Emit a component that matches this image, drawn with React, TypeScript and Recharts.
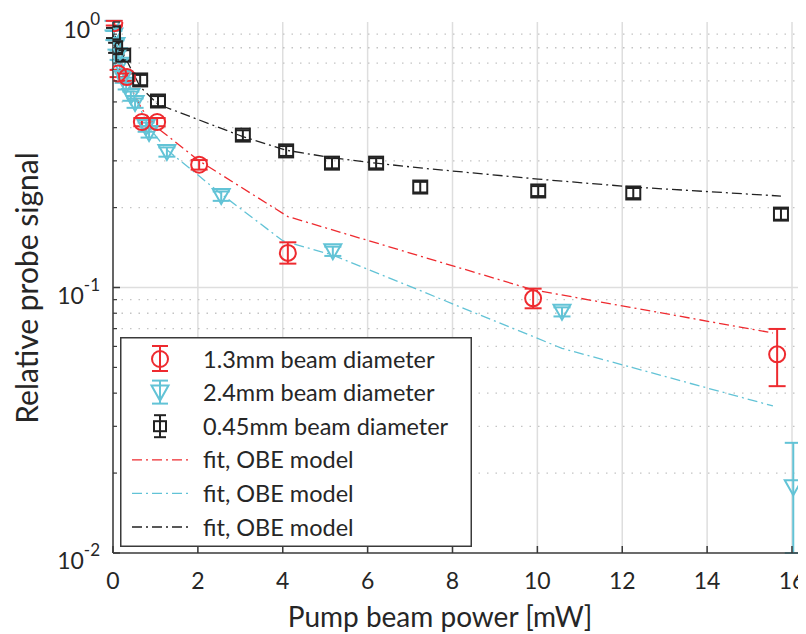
import React from 'react';
import {
  ComposedChart,
  Scatter,
  Line,
  XAxis,
  YAxis,
  CartesianGrid,
  ReferenceLine,
  ErrorBar,
  Legend,
  Label,
} from 'recharts';

// ---------- data ----------
const xTicks = [0, 2, 4, 6, 8, 10, 12, 14, 16];
const decadeTicks = [0.01, 0.1, 1];
const minorTicks = [0.02, 0.03, 0.04, 0.05, 0.06, 0.07, 0.08, 0.09, 0.2, 0.3, 0.4, 0.5, 0.6, 0.7, 0.8, 0.9];
const decadeLabels = ['-2', '-1', '0'];

// 1.3 mm beam diameter (red circles)
const redX = [0.03, 0.12, 0.33, 0.68, 1.04, 2.03, 4.12, 9.9, 15.65];
const redY = [0.99, 0.64, 0.62, 0.42, 0.42, 0.29, 0.135, 0.091, 0.056];
const redErr = [
  [0.02, 0.02], [0.02, 0.02], [0.02, 0.02], [0.015, 0.015], [0.015, 0.015],
  [0.012, 0.012], [0.012, 0.013], [0.0075, 0.008], [0.0135, 0.0138],
];
const redFitX = [0, 0.12, 0.33, 0.68, 1.04, 2.03, 4.12, 9.9, 15.55];
const redFitY = [1.0, 0.74, 0.6, 0.47, 0.4, 0.3, 0.185, 0.098, 0.0674];

// 2.4 mm beam diameter (cyan triangles)
const cyanX = [0.0, 0.02, 0.07, 0.12, 0.16, 0.24, 0.31, 0.42, 0.52, 0.78, 0.85, 1.27, 2.55, 5.18, 10.58, 16.03];
const cyanY = [0.97, 0.89, 0.82, 0.75, 0.69, 0.615, 0.58, 0.526, 0.495, 0.402, 0.382, 0.324, 0.221, 0.137, 0.081, 0.0177];
const cyanErr = [
  [0.04, 0.04], [0.035, 0.035], [0.033, 0.033], [0.03, 0.03], [0.028, 0.028], [0.025, 0.025],
  [0.023, 0.023], [0.021, 0.021], [0.02, 0.02], [0.016, 0.016], [0.015, 0.015], [0.013, 0.013],
  [0.009, 0.009], [0.0055, 0.0055], [0.0032, 0.0032], [0.0077, 0.0083],
];
const cyanFitX = [0, 0.12, 0.31, 0.52, 0.85, 1.27, 2.55, 4.0, 5.18, 10.58, 15.55];
const cyanFitY = [1.0, 0.78, 0.62, 0.52, 0.4, 0.33, 0.225, 0.15, 0.1325, 0.059, 0.0358];

// 0.45 mm beam diameter (black squares)
const blackX = [0.0, 0.05, 0.24, 0.64, 1.06, 3.06, 4.08, 5.16, 6.2, 7.24, 10.02, 12.26, 15.74];
const blackY = [0.91, 0.8, 0.75, 0.605, 0.504, 0.375, 0.327, 0.294, 0.294, 0.239, 0.231, 0.227, 0.189];
const blackErr = [
  [0.04, 0.04], [0.035, 0.035], [0.033, 0.033], [0.027, 0.027], [0.022, 0.022], [0.016, 0.016],
  [0.014, 0.014], [0.013, 0.013], [0.013, 0.013], [0.011, 0.011], [0.01, 0.01], [0.01, 0.01], [0.009, 0.009],
];
const blackFitX = [0, 0.05, 0.24, 0.64, 1.06, 3.06, 4.08, 5.16, 6.2, 7.24, 10.02, 12.26, 15.74];
const blackFitY = [1.0, 0.88, 0.76, 0.57, 0.49, 0.37, 0.329, 0.308, 0.294, 0.282, 0.256, 0.239, 0.221];

const legendLabels = [
  '1.3mm beam diameter',
  '2.4mm beam diameter',
  '0.45mm beam diameter',
  'fit, OBE model',
  'fit, OBE model',
  'fit, OBE model',
];

// ---------- styles ----------
const RED = '#ee2a2f';
const CYAN = '#62c3d6';
const BLACK = '#222222';
const TEXT = '#262626';
const AXIS = '#3a3a3a';
const FONT = 'Lato, "Noto Sans", sans-serif';
const DASH = '10 4 2 4';

const W = 798;
const H = 626;
const PLOT_LEFT = 105;
const PLOT_TOP = 14;
const PLOT_BOTTOM = 545;

const toPoints = (xs: number[], ys: number[], errs?: number[][]) =>
  xs.map((x, i) => (errs ? { x, y: ys[i], err: errs[i] } : { x, y: ys[i] }));

const redData = toPoints(redX, redY, redErr);
const cyanData = toPoints(cyanX, cyanY, cyanErr);
const blackData = toPoints(blackX, blackY, blackErr);
const redFit = toPoints(redFitX, redFitY);
const cyanFit = toPoints(cyanFitX, cyanFitY);
const blackFit = toPoints(blackFitX, blackFitY);

// ---------- shapes ----------
const CircleShape = (p: any) => (
  <circle cx={p.cx} cy={p.cy} r={8} fill="none" stroke={RED} strokeWidth={2} />
);
const TriShape = (p: any) => (
  <path
    d={`M${p.cx - 8.5},${p.cy - 7} L${p.cx + 8.5},${p.cy - 7} L${p.cx},${p.cy + 8} Z`}
    fill="none"
    stroke={CYAN}
    strokeWidth={2}
    strokeLinejoin="miter"
  />
);
const SquareShape = (p: any) => (
  <rect x={p.cx - 7} y={p.cy - 6.5} width={14} height={13} fill="none" stroke={BLACK} strokeWidth={2} />
);

// ---------- ticks ----------
const XTick = (p: any) => {
  const x = p.payload.coordinate;
  return (
    <g>
      <line x1={x} x2={x} y1={PLOT_BOTTOM} y2={PLOT_BOTTOM - 7} stroke={AXIS} strokeWidth={1.5} />
      <text x={x} y={PLOT_BOTTOM + 36} textAnchor="middle" fontSize={23} fontFamily={FONT} fill={TEXT}>
        {p.payload.value}
      </text>
    </g>
  );
};
const TopTick = (p: any) => {
  const x = p.payload.coordinate;
  return <line x1={x} x2={x} y1={PLOT_TOP} y2={PLOT_TOP + 7} stroke={AXIS} strokeWidth={1.5} />;
};
const YTick = (p: any) => {
  const v = p.payload.value;
  const y = p.payload.coordinate;
  const di = decadeTicks.findIndex((d) => Math.abs(d - v) < 1e-9);
  if (di < 0) {
    return <line x1={PLOT_LEFT} x2={PLOT_LEFT + 4} y1={y} y2={y} stroke={AXIS} strokeWidth={1.2} />;
  }
  return (
    <g>
      <line x1={PLOT_LEFT} x2={PLOT_LEFT + 7} y1={y} y2={y} stroke={AXIS} strokeWidth={1.5} />
      <text x={92} y={y + 16} textAnchor="end" fontSize={23} fontFamily={FONT} fill={TEXT}>
        <tspan>10</tspan>
        <tspan dy={-13} fontSize={17}>{decadeLabels[di]}</tspan>
      </text>
    </g>
  );
};

// ---------- legend ----------
const LegendBox = () => {
  const rows = [22, 55.6, 89.2, 122.8, 156.4, 190];
  const tx = 83;
  const mx = 40;
  const cap = 8;
  return (
    <svg width={352} height={210} style={{ display: 'block' }}>
      <rect x={0.75} y={0.75} width={350.5} height={208.5} fill="#ffffff" stroke={AXIS} strokeWidth={1.5} />
      {/* red */}
      <g stroke={RED} strokeWidth={2} fill="none">
        <line x1={mx} x2={mx} y1={rows[0] - 13} y2={rows[0] + 12} />
        <line x1={mx - cap} x2={mx + cap} y1={rows[0] - 13} y2={rows[0] - 13} />
        <line x1={mx - cap} x2={mx + cap} y1={rows[0] + 12} y2={rows[0] + 12} />
        <circle cx={mx} cy={rows[0]} r={8} />
      </g>
      {/* cyan */}
      <g stroke={CYAN} strokeWidth={2} fill="none">
        <line x1={mx} x2={mx} y1={rows[1] - 12} y2={rows[1] + 11} />
        <line x1={mx - cap} x2={mx + cap} y1={rows[1] - 12} y2={rows[1] - 12} />
        <line x1={mx - cap} x2={mx + cap} y1={rows[1] + 11} y2={rows[1] + 11} />
        <path d={`M${mx - 8.5},${rows[1] - 7} L${mx + 8.5},${rows[1] - 7} L${mx},${rows[1] + 8} Z`} />
      </g>
      {/* black */}
      <g stroke={BLACK} strokeWidth={2} fill="none">
        <line x1={mx} x2={mx} y1={rows[2] - 11} y2={rows[2] + 11} />
        <line x1={mx - 6} x2={mx + 6} y1={rows[2] - 11} y2={rows[2] - 11} />
        <line x1={mx - 6} x2={mx + 6} y1={rows[2] + 11} y2={rows[2] + 11} />
        <rect x={mx - 6} y={rows[2] - 5} width={12} height={10} />
      </g>
      <line x1={12} x2={70} y1={rows[3]} y2={rows[3]} stroke={RED} strokeWidth={1.3} strokeDasharray={DASH} />
      <line x1={12} x2={70} y1={rows[4]} y2={rows[4]} stroke={CYAN} strokeWidth={1.3} strokeDasharray={DASH} />
      <line x1={12} x2={70} y1={rows[5]} y2={rows[5]} stroke={BLACK} strokeWidth={1.3} strokeDasharray={DASH} />
      {legendLabels.map((t, i) => (
        <text key={i} x={tx} y={rows[i] + 8.5} fontSize={23.5} fontFamily={FONT} fill={TEXT}>
          {t}
        </text>
      ))}
    </svg>
  );
};

export default function App() {
  return (
    <div style={{ width: W, height: H, overflow: 'hidden' }}>
      <style>{'html,body{overflow:hidden;}'}</style>
      <ComposedChart width={W} height={H} margin={{ top: PLOT_TOP, right: 0, bottom: 0, left: 0 }}>
        <CartesianGrid xAxisId="bottom" horizontal={false} stroke="#dedede" strokeWidth={1.5} />
        {minorTicks.map((v) => (
          <ReferenceLine key={'m' + v} xAxisId="bottom" y={v} stroke="#c4c4c4" strokeWidth={1.3} strokeDasharray="1.5 7" />
        ))}
        <ReferenceLine xAxisId="bottom" y={0.1} stroke="#dedede" strokeWidth={1.5} />
        <XAxis
          xAxisId="bottom"
          dataKey="x"
          type="number"
          domain={[0, 16.33]}
          ticks={xTicks}
          allowDataOverflow
          height={81}
          axisLine={{ stroke: AXIS, strokeWidth: 1.5 }}
          tickLine={false}
          tick={XTick}
          interval={0}
        >
          <Label
            content={() => (
              <text x={432} y={619} textAnchor="middle" fontSize={28} fontFamily={FONT} fill={TEXT}>
                Pump beam power [mW]
              </text>
            )}
          />
        </XAxis>
        <XAxis
          xAxisId="top"
          orientation="top"
          dataKey="x"
          type="number"
          domain={[0, 16.33]}
          ticks={xTicks}
          allowDataOverflow
          height={0}
          axisLine={{ stroke: AXIS, strokeWidth: 1.5 }}
          tickLine={false}
          tick={TopTick}
          interval={0}
        />
        <YAxis
          type="number"
          scale="log"
          domain={[0.01, 1]}
          ticks={[...decadeTicks, ...minorTicks]}
          allowDataOverflow
          width={PLOT_LEFT}
          axisLine={{ stroke: AXIS, strokeWidth: 1.5 }}
          tickLine={false}
          tick={YTick}
          interval={0}
        >
          <Label
            content={() => (
              <text
                x={30}
                y={280}
                transform="rotate(-90 30 280)"
                textAnchor="middle"
                fontSize={30}
                fontFamily={FONT}
                fill={TEXT}
              >
                Relative probe signal
              </text>
            )}
          />
        </YAxis>

        <Line xAxisId="bottom" data={redFit} dataKey="y" type="linear" stroke={RED} strokeWidth={1.3} strokeDasharray={DASH} dot={false} activeDot={false} isAnimationActive={false} />
        <Line xAxisId="bottom" data={cyanFit} dataKey="y" type="linear" stroke={CYAN} strokeWidth={1.3} strokeDasharray={DASH} dot={false} activeDot={false} isAnimationActive={false} />
        <Line xAxisId="bottom" data={blackFit} dataKey="y" type="linear" stroke={BLACK} strokeWidth={1.3} strokeDasharray={DASH} dot={false} activeDot={false} isAnimationActive={false} />

        <Scatter xAxisId="bottom" data={cyanData} dataKey="y" shape={TriShape} isAnimationActive={false}>
          <ErrorBar dataKey="err" direction="y" width={8.5} stroke={CYAN} strokeWidth={2} />
        </Scatter>
        <Scatter xAxisId="bottom" data={redData} dataKey="y" shape={CircleShape} isAnimationActive={false}>
          <ErrorBar dataKey="err" direction="y" width={8.5} stroke={RED} strokeWidth={2} />
        </Scatter>
        <Scatter xAxisId="bottom" data={blackData} dataKey="y" shape={SquareShape} isAnimationActive={false}>
          <ErrorBar dataKey="err" direction="y" width={7} stroke={BLACK} strokeWidth={2} />
        </Scatter>

        <Legend
          layout="vertical"
          align="center"
          verticalAlign="middle"
          wrapperStyle={{ left: 112, top: 329, width: 352, height: 210 }}
          content={() => <LegendBox />}
        />
      </ComposedChart>
    </div>
  );
}
